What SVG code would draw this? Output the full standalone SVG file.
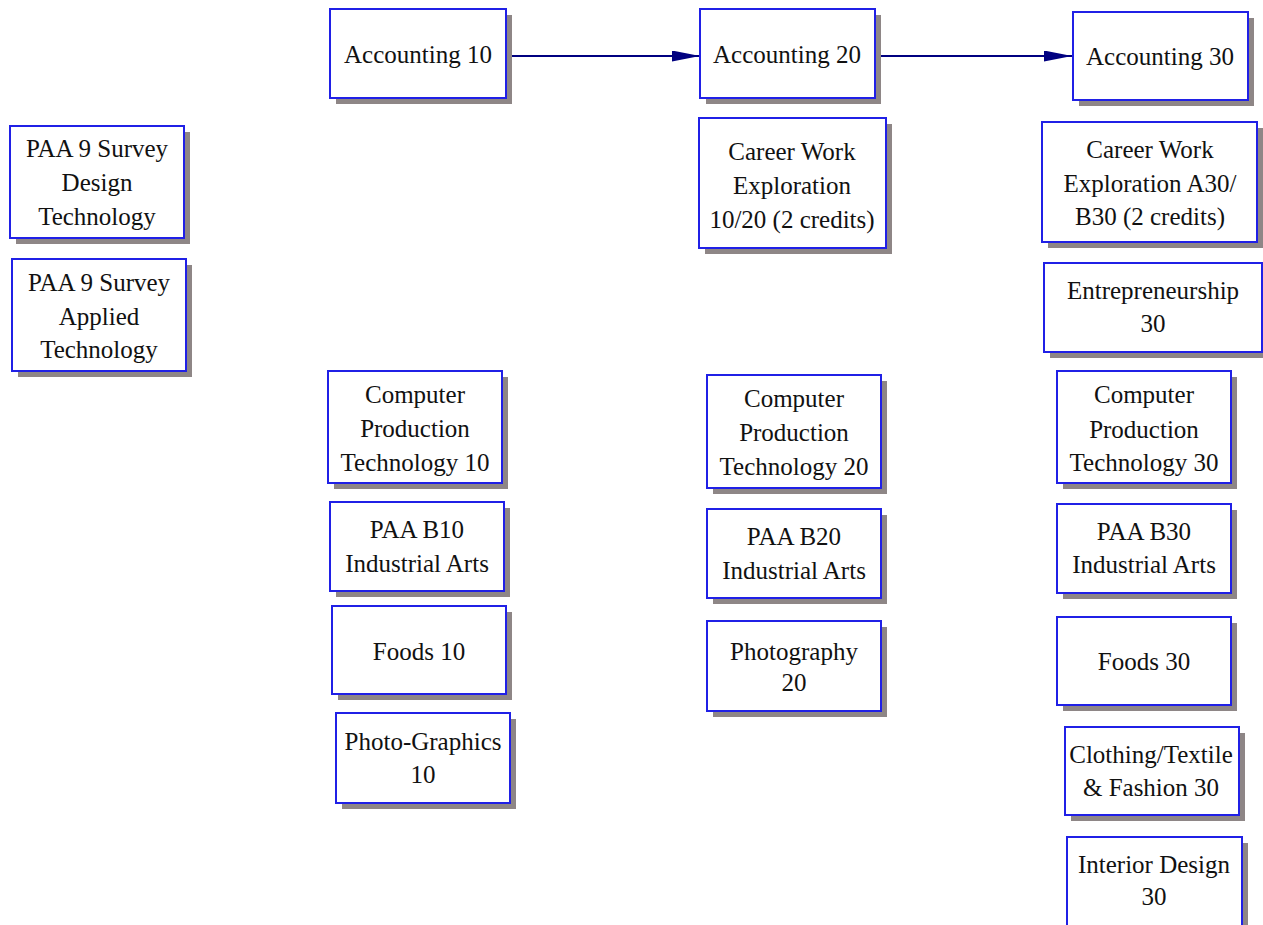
<svg xmlns="http://www.w3.org/2000/svg" width="1263" height="925" viewBox="0 0 1263 925">
<style>
.sh{fill:#8e8686}
.bx{fill:#ffffff;stroke:#2020e6;stroke-width:2}
text{font-family:'Liberation Serif','DejaVu Serif','Times New Roman',serif;font-size:25px;fill:#111111;text-anchor:middle}
.cn{stroke:#000080;stroke-width:2;fill:none}
</style>
<defs>
<marker id="ah" viewBox="0 0 28 11" refX="28" refY="5.5" markerWidth="28" markerHeight="11" markerUnits="userSpaceOnUse" orient="auto">
<path d="M0,0 L28,5.5 L0,11 Z" fill="#000080"/>
</marker>
</defs>
<rect width="1263" height="925" fill="#ffffff"/>
<g id="connectors">
<line class="cn" x1="512" y1="56" x2="700" y2="56" marker-end="url(#ah)"/>
<line class="cn" x1="881" y1="56" x2="1072" y2="56" marker-end="url(#ah)"/>
</g>
<g font-family="Liberation Serif, serif">
<g id="paa9d"><rect class="sh" x="16" y="132" width="174" height="112"/><rect class="bx" x="10" y="126" width="174" height="112"/><text x="97" y="157">PAA 9 Survey</text><text x="97" y="191">Design</text><text x="97" y="225">Technology</text></g>
<g id="paa9a"><rect class="sh" x="18" y="265" width="174" height="112"/><rect class="bx" x="12" y="259" width="174" height="112"/><text x="99" y="291">PAA 9 Survey</text><text x="99" y="325">Applied</text><text x="99" y="358">Technology</text></g>
<g id="acc10"><rect class="sh" x="336" y="15" width="176" height="89"/><rect class="bx" x="330" y="9" width="176" height="89"/><text x="418" y="63">Accounting 10</text></g>
<g id="acc20"><rect class="sh" x="706" y="15" width="175" height="89"/><rect class="bx" x="700" y="9" width="175" height="89"/><text x="787" y="63">Accounting 20</text></g>
<g id="acc30"><rect class="sh" x="1079" y="18" width="175" height="88"/><rect class="bx" x="1073" y="12" width="175" height="88"/><text x="1160" y="65">Accounting 30</text></g>
<g id="cwe1020"><rect class="sh" x="705" y="124" width="187" height="130"/><rect class="bx" x="699" y="118" width="187" height="130"/><text x="792" y="160">Career Work</text><text x="792" y="194">Exploration</text><text x="792" y="228">10/20 (2 credits)</text></g>
<g id="cwe30"><rect class="sh" x="1048" y="128" width="215" height="120"/><rect class="bx" x="1042" y="122" width="215" height="120"/><text x="1150" y="158">Career Work</text><text x="1150" y="192">Exploration A30/</text><text x="1150" y="225">B30 (2 credits)</text></g>
<g id="entre"><rect class="sh" x="1050" y="269" width="218" height="89"/><rect class="bx" x="1044" y="263" width="218" height="89"/><text x="1153" y="299">Entrepreneurship</text><text x="1153" y="332">30</text></g>
<g id="cpt10"><rect class="sh" x="334" y="377" width="174" height="112"/><rect class="bx" x="328" y="371" width="174" height="112"/><text x="415" y="403">Computer</text><text x="415" y="437">Production</text><text x="415" y="471">Technology 10</text></g>
<g id="paab10"><rect class="sh" x="336" y="508" width="174" height="89"/><rect class="bx" x="330" y="502" width="174" height="89"/><text x="417" y="538">PAA B10</text><text x="417" y="572">Industrial Arts</text></g>
<g id="foods10"><rect class="sh" x="338" y="612" width="174" height="88"/><rect class="bx" x="332" y="606" width="174" height="88"/><text x="419" y="660">Foods 10</text></g>
<g id="photog10"><rect class="sh" x="342" y="719" width="174" height="90"/><rect class="bx" x="336" y="713" width="174" height="90"/><text x="423" y="750">Photo-Graphics</text><text x="423" y="783">10</text></g>
<g id="cpt20"><rect class="sh" x="713" y="381" width="174" height="113"/><rect class="bx" x="707" y="375" width="174" height="113"/><text x="794" y="407">Computer</text><text x="794" y="441">Production</text><text x="794" y="475">Technology 20</text></g>
<g id="paab20"><rect class="sh" x="713" y="515" width="174" height="89"/><rect class="bx" x="707" y="509" width="174" height="89"/><text x="794" y="545">PAA B20</text><text x="794" y="579">Industrial Arts</text></g>
<g id="photo20"><rect class="sh" x="713" y="627" width="174" height="90"/><rect class="bx" x="707" y="621" width="174" height="90"/><text x="794" y="660">Photography</text><text x="794" y="691">20</text></g>
<g id="cpt30"><rect class="sh" x="1063" y="377" width="174" height="112"/><rect class="bx" x="1057" y="371" width="174" height="112"/><text x="1144" y="403">Computer</text><text x="1144" y="438">Production</text><text x="1144" y="471">Technology 30</text></g>
<g id="paab30"><rect class="sh" x="1063" y="510" width="174" height="89"/><rect class="bx" x="1057" y="504" width="174" height="89"/><text x="1144" y="540">PAA B30</text><text x="1144" y="573">Industrial Arts</text></g>
<g id="foods30"><rect class="sh" x="1063" y="623" width="174" height="88"/><rect class="bx" x="1057" y="617" width="174" height="88"/><text x="1144" y="670">Foods 30</text></g>
<g id="cloth30"><rect class="sh" x="1071" y="733" width="174" height="88"/><rect class="bx" x="1065" y="727" width="174" height="88"/><text x="1151" y="763">Clothing/Textile</text><text x="1151" y="796">&amp; Fashion 30</text></g>
<g id="interior30"><rect class="sh" x="1073" y="843" width="175" height="95"/><rect class="bx" x="1067" y="837" width="175" height="95"/><text x="1154" y="873">Interior Design</text><text x="1154" y="905">30</text></g>
</g>
</svg>
